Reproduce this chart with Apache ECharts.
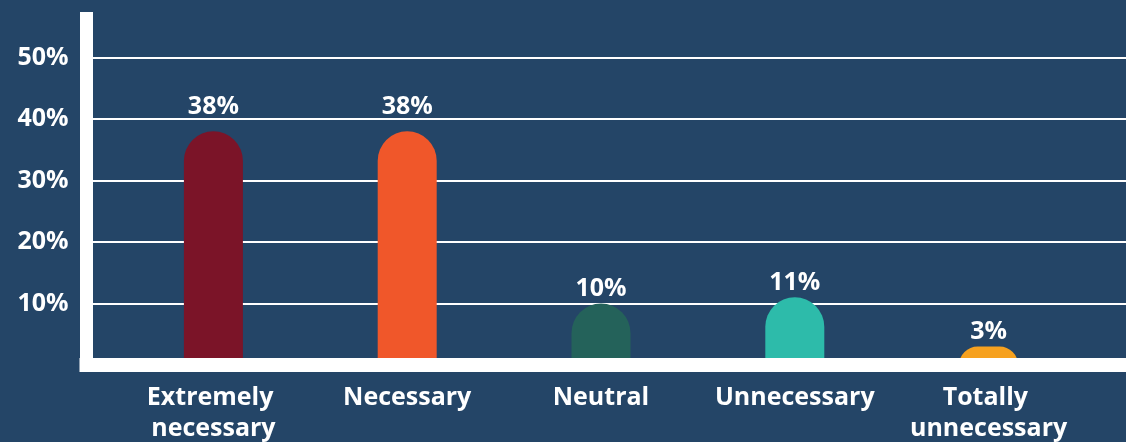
<!DOCTYPE html>
<html>
<head>
<meta charset="utf-8">
<script src="https://cdn.jsdelivr.net/npm/echarts@6/dist/echarts.min.js"></script>
<style>
html,body{margin:0;padding:0;background:#244567;}
#chart{width:1126px;height:442px;}
</style>
</head>
<body>
<div id="chart"></div>
<script>
const categories = ['Extremely necessary', 'Necessary', 'Neutral', 'Unnecessary', 'Totally unnecessary'];
const values = [38, 38, 10, 11, 3];
const barColors = ['#7B1428', '#F0572A', '#24625A', '#2DBBAA', '#F6A11F'];
const yTicks = [10, 20, 30, 40, 50];

const FONT = '"Open Sans", sans-serif';
const Y_MAX = 57.4;

const chart = echarts.init(document.getElementById('chart'));
chart.setOption({
  backgroundColor: '#244567',
  animation: false,
  grid: [
    { left: 86.5, right: 0, top: 12, bottom: 77, containLabel: false, outerBoundsMode: 'none' },
    { left: 116.5, right: 40.5, top: 12, bottom: 77, containLabel: false, outerBoundsMode: 'none' }
  ],
  xAxis: [
    {
      gridIndex: 0, type: 'value', min: 0, max: 1, z: 5,
      axisLine: { show: true, lineStyle: { color: '#ffffff', width: 14, cap: 'square' } },
      axisTick: { show: false }, axisLabel: { show: false }, splitLine: { show: false }
    },
    {
      gridIndex: 1, type: 'category', data: categories,
      axisLine: { show: false }, axisTick: { show: false },
      axisLabel: {
        color: '#ffffff', fontFamily: FONT, fontWeight: 'bold', fontSize: 25,
        margin: 17, lineHeight: 31, width: 185, overflow: 'break', interval: 0
      }
    }
  ],
  yAxis: [
    {
      gridIndex: 0, type: 'value', min: 0, max: Y_MAX, interval: 10, z: 1,
      axisLine: { show: true, lineStyle: { color: '#ffffff', width: 13, cap: 'butt' } },
      axisTick: { show: false },
      axisLabel: {
        color: '#ffffff', fontFamily: FONT, fontWeight: 'bold', fontSize: 25, margin: 18,
        padding: [4, 0, 0, 0],
        formatter: function (v) { return yTicks.indexOf(v) >= 0 ? v + '%' : ''; }
      },
      splitLine: { show: true, showMinLine: false, showMaxLine: false, lineStyle: { color: '#ffffff', width: 2 } }
    },
    {
      gridIndex: 1, type: 'value', min: 0, max: Y_MAX, interval: 10, show: false
    }
  ],
  series: [
    {
      type: 'bar', xAxisIndex: 1, yAxisIndex: 1, z: 2,
      barWidth: 59,
      data: values.map((v, i) => ({
        value: v,
        itemStyle: { color: barColors[i] },
        label: { distance: v >= 30 ? 12 : 2 }
      })),
      itemStyle: { borderRadius: [29.5, 29.5, 0, 0] },
      label: {
        show: true, position: 'top', color: '#ffffff',
        fontFamily: FONT, fontWeight: 'bold', fontSize: 25,
        formatter: '{c}%'
      }
    }
  ]
});
</script>
</body>
</html>
